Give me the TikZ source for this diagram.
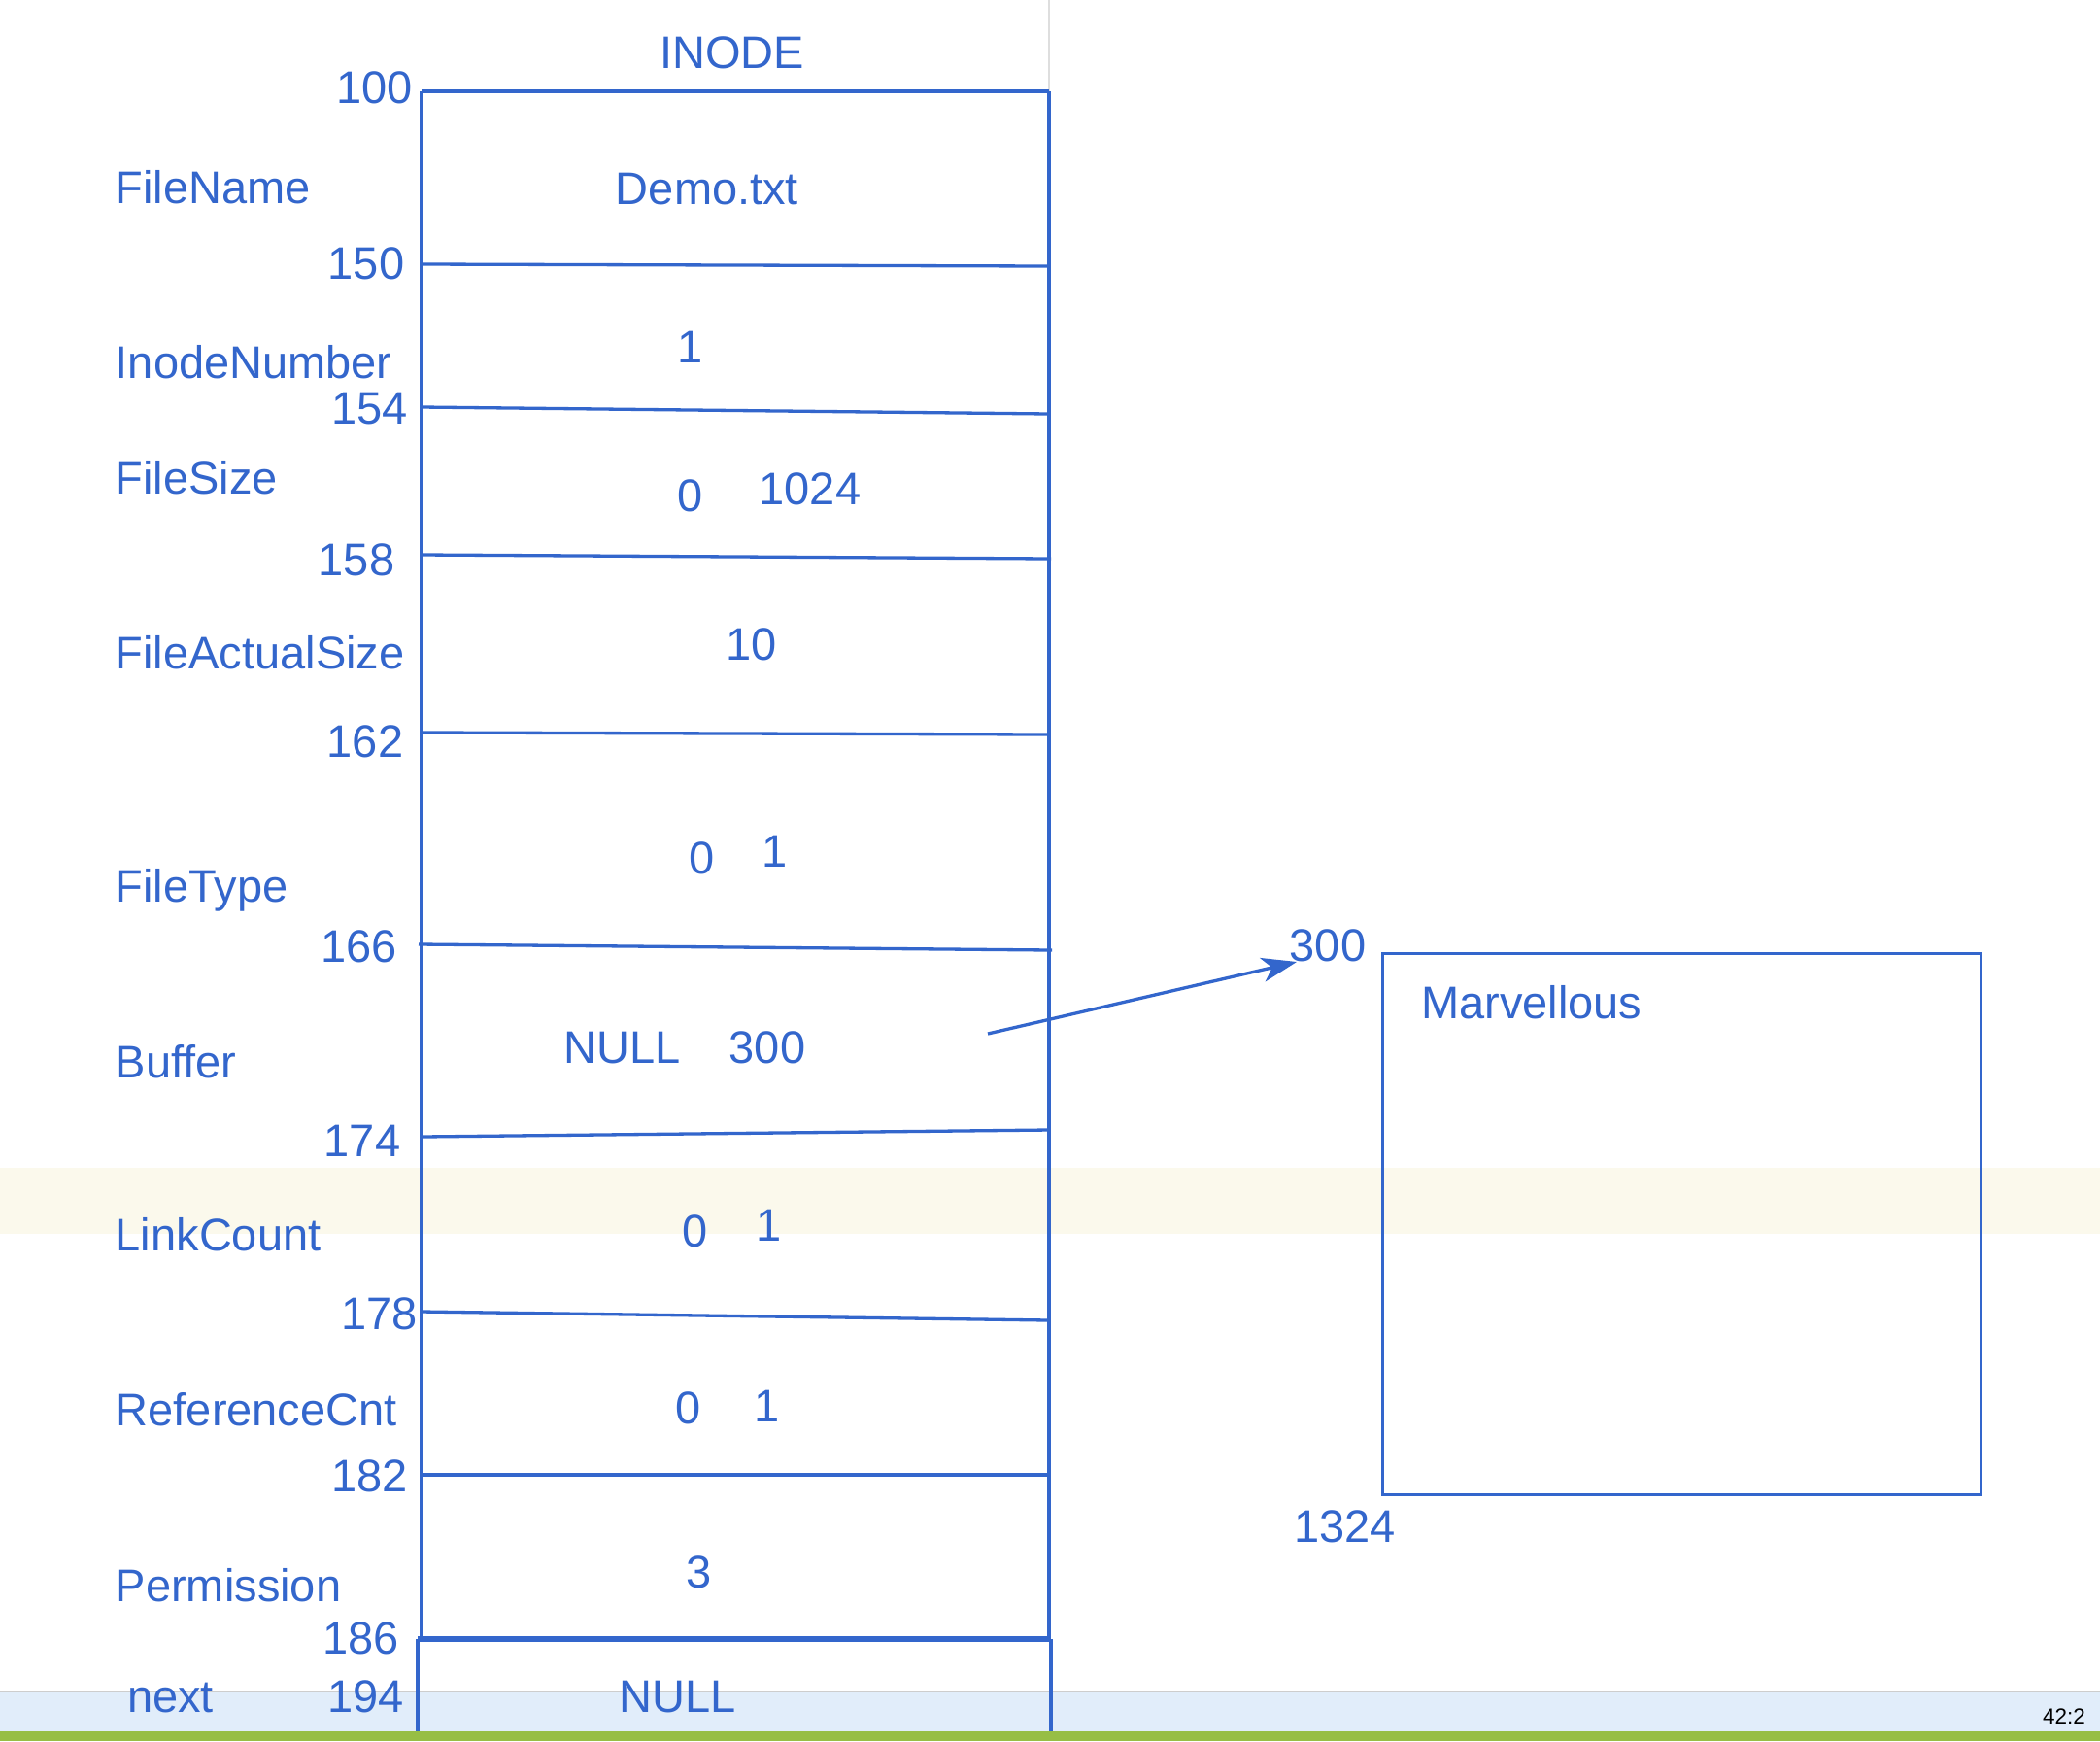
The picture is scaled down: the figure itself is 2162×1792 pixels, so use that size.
\documentclass[tikz,border=0pt]{standalone}
\usepackage{fontspec}
\setmainfont{Liberation Sans}
\usetikzlibrary{arrows.meta}
\definecolor{ink}{RGB}{51,102,204}
\definecolor{cream}{RGB}{251,249,236}
\definecolor{barblue}{RGB}{225,237,250}
\definecolor{bargrey}{RGB}{205,205,205}
\definecolor{bargreen}{RGB}{151,190,69}
\definecolor{topgrey}{RGB}{222,222,222}
\begin{document}
\begin{tikzpicture}[x=1pt,y=-1pt,
  lbl/.style={text=ink, font=\fontsize{47}{56}\selectfont, inner sep=0pt, anchor=base west},
  num/.style={text=ink, font=\fontsize{47}{56}\selectfont, inner sep=0pt, anchor=base},
  ln/.style={draw=ink, line width=3.3pt},
  thick line/.style={draw=ink, line width=6pt}]
\useasboundingbox (0,0) rectangle (2162,1792);
\fill[white] (0,0) rectangle (2162,1792);
% background bands
\fill[cream] (0,1202) rectangle (2162,1270);
\fill[barblue] (0,1741) rectangle (2162,1782);
\draw[bargrey, line width=2.5pt] (0,1741) -- (2162,1741);
\fill[bargreen] (0,1782) rectangle (2162,1792);
\draw[topgrey, line width=2pt] (1080,0) -- (1080,94);

% inode frame
\coordinate (tl) at (434,94);
\coordinate (tr) at (1080,94);
\coordinate (ml) at (434,1687);
\coordinate (mr) at (1080,1687);
\coordinate (bl) at (430,1782);
\coordinate (br) at (1082,1782);
\coordinate (ml2) at (430,1687);
\coordinate (mr2) at (1082,1687);
\draw[ln] (tl) -- (tr);
\draw[ln] (tl) -- (ml);
\draw[ln] (tr) -- (mr);
\draw[ln] (ml2) -- (bl);
\draw[ln] (mr2) -- (br);

% row separators
\coordinate (a1) at (434,272);  \coordinate (b1) at (1080,274);
\coordinate (a2) at (434,419);  \coordinate (b2) at (1080,426);
\coordinate (a3) at (434,571);  \coordinate (b3) at (1082,575);
\coordinate (a4) at (434,754);  \coordinate (b4) at (1080,756);
\coordinate (a5) at (431,972);  \coordinate (b5) at (1083,978);
\coordinate (a6) at (434,1170); \coordinate (b6) at (1080,1163);
\coordinate (a7) at (434,1350); \coordinate (b7) at (1080,1359);
\coordinate (a8) at (432,1518); \coordinate (b8) at (1080,1518);
\draw[ln] (a1) -- (b1);
\draw[ln] (a2) -- (b2);
\draw[ln] (a3) -- (b3);
\draw[ln] (a4) -- (b4);
\draw[ln] (a5) -- (b5);
\draw[ln] (a6) -- (b6);
\draw[ln] (a7) -- (b7);
\draw[ln] (a8) -- (b8);
\draw[thick line] (ml2) -- (mr2);

% header
\node[num] (title) at (753.5,70) {INODE};

% addresses
\node[num] (n100) at (385.5,106) {100};
\node[num] (n150) at (377,287) {150};
\node[num] (n154) at (380.5,436) {154};
\node[num] (n158) at (367,592) {158};
\node[num] (n162) at (376,779) {162};
\node[num] (n166) at (369.5,990) {166};
\node[num] (n174) at (373,1190) {174};
\node[num] (n178) at (390.5,1368) {178};
\node[num] (n182) at (380.5,1535) {182};
\node[num] (n186) at (371.5,1702) {186};
\node[num] (n194) at (376.5,1762) {194};

% field names
\node[lbl] (fname) at (118.6,209) {FileName};
\node[lbl] (finode) at (118.6,389) {InodeNumber};
\node[lbl] (fsize) at (118.6,508) {FileSize};
\node[lbl] (fact) at (118.6,688) {FileActualSize};
\node[lbl] (ftype) at (118.6,928) {FileType};
\node[lbl] (fbuf) at (118.6,1109) {Buffer};
\node[lbl] (flink) at (118.6,1287) {LinkCount};
\node[lbl] (fref) at (118.6,1467) {ReferenceCnt};
\node[lbl] (fperm) at (118.6,1648) {Permission};
\node[lbl] (fnext) at (131,1762) {next};

% values
\node[num] (vname) at (728,210) {Demo.txt};
\node[num] (vinode) at (711,373) {1};
\node[num] (vsize0) at (711,526) {0};
\node[num] (vsize1) at (834,519) {1024};
\node[num] (vact) at (773.5,679) {10};
\node[num] (vtype0) at (722.5,899) {0};
\node[num] (vtype1) at (798,892) {1};
\node[num] (vbuf0) at (641,1094) {NULL};
\node[num] (vbuf1) at (790,1094) {300};
\node[num] (vlink0) at (715.5,1283) {0};
\node[num] (vlink1) at (792,1277) {1};
\node[num] (vref0) at (708.7,1465) {0};
\node[num] (vref1) at (790,1463) {1};
\node[num] (vperm) at (720,1634) {3};
\node[num] (vnext) at (698,1762) {NULL};

% buffer block
\node[draw=ink, line width=3.3pt, minimum width=616.5pt, minimum height=557pt, inner sep=0pt, anchor=north west] (buf) at (1421.5,980) {};
\node[num] (b300) at (1367,989) {300};
\node[lbl] (bdata) at (1463,1048) {Marvellous};
\node[lbl] (b1324) at (1332,1587) {1324};

% pointer arrow
\coordinate (pstart) at (1017,1064);
\coordinate (pend) at (1335,990);
\draw[ln, -{Stealth[length=36pt, width=25pt, inset=10pt]}] (pstart) -- (pend);

% status text
\node[anchor=base east, inner sep=0pt, font=\fontsize{22.5}{26}\selectfont, text=black] (status) at (2147,1774) {42:2};
\end{tikzpicture}
\end{document}
